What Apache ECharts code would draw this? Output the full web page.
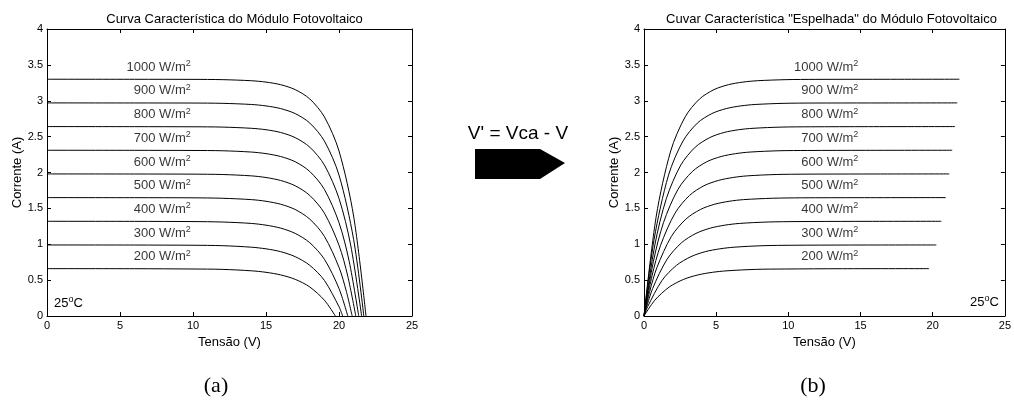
<!DOCTYPE html>
<html>
<head>
<meta charset="utf-8">
<script src="https://cdn.jsdelivr.net/npm/echarts@6/dist/echarts.min.js"></script>
<style>
  html, body { margin: 0; padding: 0; background: #fff; }
  #chart { width: 1014px; height: 401px; }
</style>
</head>
<body>
<div id="chart"></div>
<script>
// irradiance levels (W/m2) and I-V points [Tensão (V), Corrente (A)] (a)
var irradiancias = [200, 300, 400, 500, 600, 700, 800, 900, 1000];

var curva200 = [[0, 0.66], [6, 0.659], [10, 0.655], [12, 0.650], [14, 0.630], [15, 0.609], [16, 0.573], [17, 0.511], [18, 0.404], [19, 0.220], [19.75, 0]];
var curva300 = [[0, 0.99], [6, 0.989], [10, 0.986], [12, 0.980], [14, 0.959], [15, 0.936], [16, 0.897], [17, 0.827], [18, 0.706], [19, 0.496], [20, 0.129], [20.25, 0]];
var curva400 = [[0, 1.32], [6, 1.319], [10, 1.316], [12, 1.310], [14, 1.290], [15, 1.266], [16, 1.225], [17, 1.151], [18, 1.021], [19, 0.791], [20, 0.383], [20.6, 0]];
var curva500 = [[0, 1.65], [6, 1.649], [10, 1.647], [12, 1.641], [14, 1.622], [15, 1.599], [16, 1.558], [17, 1.484], [18, 1.350], [19, 1.110], [20, 0.678], [20.5, 0.346], [20.9, 0]];
var curva600 = [[0, 1.98], [6, 1.979], [10, 1.977], [12, 1.972], [14, 1.953], [15, 1.930], [16, 1.889], [17, 1.815], [18, 1.680], [19, 1.433], [20, 0.986], [20.6, 0.556], [21.15, 0]];
var curva700 = [[0, 2.31], [6, 2.309], [10, 2.307], [12, 2.303], [14, 2.285], [15, 2.263], [16, 2.223], [17, 2.150], [18, 2.014], [19, 1.764], [20, 1.301], [20.7, 0.760], [21.35, 0]];
var curva800 = [[0, 2.64], [6, 2.639], [10, 2.637], [12, 2.633], [14, 2.616], [15, 2.596], [16, 2.558], [17, 2.486], [18, 2.353], [19, 2.104], [20, 1.638], [20.8, 0.988], [21.55, 0]];
var curva900 = [[0, 2.97], [6, 2.969], [10, 2.968], [12, 2.964], [14, 2.948], [15, 2.928], [16, 2.891], [17, 2.821], [18, 2.689], [19, 2.438], [20, 1.964], [21, 1.069], [21.7, 0]];
var curva1000 = [[0, 3.30], [6, 3.299], [10, 3.298], [12, 3.294], [14, 3.279], [15, 3.260], [16, 3.224], [17, 3.155], [18, 3.025], [19, 2.775], [20, 2.300], [21, 1.393], [21.85, 0]];

var curvas = [curva200, curva300, curva400, curva500, curva600, curva700, curva800, curva900, curva1000];

var xTicks = [0, 5, 10, 15, 20, 25];
var yTicks = [0, 0.5, 1, 1.5, 2, 2.5, 3, 3.5, 4];

var FONT = '"Liberation Sans", Arial, sans-serif';

// mirrored curve: V' = Vca - V
function espelhar(c) {
    var vca = c[c.length - 1][0];
    return c.map(function (p) { return [+(vca - p[0]).toFixed(3), p[1]]; }).reverse();
}

function eixoX(grid, pos, showLabel, showName) {
    return {
        type: 'value', gridIndex: grid, position: pos,
        min: xTicks[0], max: xTicks[xTicks.length - 1], interval: 5,
        axisLine: { show: true, onZero: false, lineStyle: { color: '#000', width: 1 } },
        axisTick: { show: true, inside: true, length: 4, lineStyle: { color: '#000' } },
        axisLabel: { show: showLabel, color: '#000', fontSize: 11, fontFamily: FONT, margin: 4 },
        splitLine: { show: false },
        name: showName ? 'Tensão (V)' : '', nameLocation: 'middle', nameGap: 17,
        nameTextStyle: { color: '#000', fontSize: 13, fontFamily: FONT, verticalAlign: 'top' }
    };
}

function eixoY(grid, pos, showLabel, showName) {
    return {
        type: 'value', gridIndex: grid, position: pos,
        min: yTicks[0], max: yTicks[yTicks.length - 1], interval: 0.5,
        axisLine: { show: true, onZero: false, lineStyle: { color: '#000', width: 1 } },
        axisTick: { show: true, inside: true, length: 4, lineStyle: { color: '#000' } },
        axisLabel: { show: showLabel, color: '#000', fontSize: 11, fontFamily: FONT, margin: 4 },
        splitLine: { show: false },
        name: showName ? 'Corrente (A)' : '', nameLocation: 'middle', nameGap: 23,
        nameTextStyle: { color: '#000', fontSize: 13, fontFamily: FONT }
    };
}

var series = [];
curvas.forEach(function (c) {
    series.push({
        type: 'line', xAxisIndex: 0, yAxisIndex: 0, data: c,
        showSymbol: false, smooth: 0.3,
        lineStyle: { color: '#000', width: 1 }, silent: true
    });
    series.push({
        type: 'line', xAxisIndex: 2, yAxisIndex: 2, data: espelhar(c),
        showSymbol: false, smooth: 0.3,
        lineStyle: { color: '#000', width: 1 }, silent: true
    });
});

var richLbl = {
    a: { fontSize: 13, fontFamily: FONT, color: '#000' },
    s: { fontSize: 9, fontFamily: FONT, color: '#000', padding: [0, 0, 7, 0] }
};

function rotulos(xIdx, yIdx, xAnchor) {
    return {
        type: 'scatter', xAxisIndex: xIdx, yAxisIndex: yIdx, symbolSize: 0, silent: true,
        data: curvas.map(function (c, i) { return { value: [xAnchor, c[0][1]], irr: irradiancias[i] }; }),
        label: {
            show: true, position: 'left', distance: 0, offset: [0, -12],
            formatter: function (p) { return '{a|' + p.data.irr + ' W/m}{s|2}'; },
            rich: richLbl
        }
    };
}
series.push(rotulos(0, 0, 9.85));
series.push(rotulos(2, 2, 14.85));

var tempRich = {
    a: { fontSize: 13, fontFamily: FONT, fill: '#000' },
    s: { fontSize: 9, fontFamily: FONT, fill: '#000', padding: [0, 0, 7, 0] }
};

var chart = echarts.init(document.getElementById('chart'));
chart.setOption({
    backgroundColor: '#fff',
    animation: false,
    title: [
        { text: 'Curva Característica do Módulo Fotovoltaico', left: 229.5, top: 8, textAlign: 'center',
          textStyle: { fontSize: 13, fontWeight: 'normal', color: '#000', fontFamily: FONT } },
        { text: 'Cuvar Característica "Espelhada" do Módulo Fotovoltaico', left: 826.5, top: 8, textAlign: 'center',
          textStyle: { fontSize: 13, fontWeight: 'normal', color: '#000', fontFamily: FONT } }
    ],
    grid: [
        { left: 47, top: 29, width: 365, height: 287 },
        { left: 644, top: 29, width: 365, height: 287 }
    ],
    xAxis: [eixoX(0, 'bottom', true, true), eixoX(0, 'top', false, false),
            eixoX(1, 'bottom', true, true), eixoX(1, 'top', false, false)],
    yAxis: [eixoY(0, 'left', true, true), eixoY(0, 'right', false, false),
            eixoY(1, 'left', true, true), eixoY(1, 'right', false, false)],
    series: series,
    graphic: [
        { type: 'polygon', shape: { points: [[475, 149], [540, 149], [565, 163], [540, 179], [475, 179]] },
          style: { fill: '#000' } },
        { type: 'text', x: 518, y: 134, style: { text: "V' = Vca - V", fontSize: 19, fontFamily: FONT,
          fill: '#000', align: 'center', verticalAlign: 'middle' } },
        { type: 'text', x: 54, y: 303, style: { text: '{a|25}{s|o}{a|C}', rich: tempRich, verticalAlign: 'middle' } },
        { type: 'text', x: 970, y: 302, style: { text: '{a|25}{s|o}{a|C}', rich: tempRich, verticalAlign: 'middle' } },
        { type: 'text', x: 216, y: 386, style: { text: '(a)', fontSize: 22, fontFamily: '"Liberation Serif", serif',
          fill: '#000', align: 'center', verticalAlign: 'middle' } },
        { type: 'text', x: 813, y: 386, style: { text: '(b)', fontSize: 22, fontFamily: '"Liberation Serif", serif',
          fill: '#000', align: 'center', verticalAlign: 'middle' } }
    ]
});
</script>
</body>
</html>
